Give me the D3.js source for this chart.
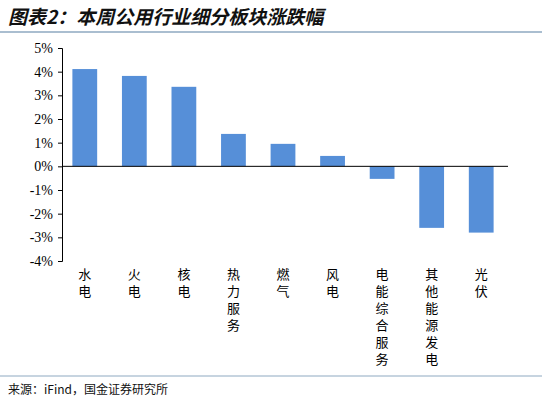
<!DOCTYPE html>
<html><head><meta charset="utf-8">
<script src="https://cdn.jsdelivr.net/npm/d3@7"></script>
<style>body{margin:0;background:#fff}</style></head>
<body><svg id="c" width="542" height="404"></svg>
<script>
const categories=["水电","火电","核电","热力服务","燃气","风电","电能综合服务","其他能源发电","光伏"];
const values=[4.11,3.82,3.36,1.37,0.95,0.44,-0.53,-2.6,-2.8];
const ticks=[5,4,3,2,1,0,-1,-2,-3,-4];
const svg=d3.select("#c");
svg.append("text").attr("x",8).attr("y",24).attr("font-family","Noto Sans CJK SC").attr("font-size",19).attr("font-weight","bold").attr("font-style","italic").attr("fill","#111").text("图表2：本周公用行业细分板块涨跌幅");
svg.append("line").attr("x1",0).attr("x2",542).attr("y1",32).attr("y2",32).attr("stroke","#8ea9c1").attr("stroke-width",1.5);
svg.append("line").attr("x1",0).attr("x2",542).attr("y1",376).attr("y2",376).attr("stroke","#8ea9c1").attr("stroke-width",1);
svg.append("text").attr("x",8).attr("y",394).attr("font-family","Noto Sans CJK SC").attr("font-size",12).attr("fill","#111").text("来源：iFind，国金证券研究所");
const y=d3.scaleLinear().domain([-4,5]).range([261,48]);
const x=d3.scaleBand().domain(categories).range([60,506]).paddingInner(0.5).paddingOuter(0.25);
const g=svg.append("g");
g.selectAll("rect").data(values).join("rect").attr("x",(d,i)=>x(categories[i])).attr("width",x.bandwidth())
 .attr("y",d=>y(Math.max(0,d))).attr("height",d=>Math.abs(y(d)-y(0))).attr("fill","#568fd8");
const ax=svg.append("g").attr("transform","translate(62,0)").call(d3.axisLeft(y).tickValues(ticks).tickSize(4).tickFormat(d=>d+"%"));
ax.selectAll("text").attr("font-family","Liberation Serif").attr("font-size",14).attr("fill","#000").attr("dx",-2);
ax.select(".domain").attr("stroke","#000");
svg.append("line").attr("x1",62).attr("x2",508).attr("y1",y(0)).attr("y2",y(0)).attr("stroke","#000");
categories.forEach((c,i)=>{
  const cx=x(c)+x.bandwidth()/2;
  [...c].forEach((ch,j)=>svg.append("text").attr("x",cx).attr("y",279+j*17).attr("text-anchor","middle")
   .attr("font-family","Noto Sans CJK SC").attr("font-size",13).attr("fill","#000").text(ch));
});
</script></body></html>
